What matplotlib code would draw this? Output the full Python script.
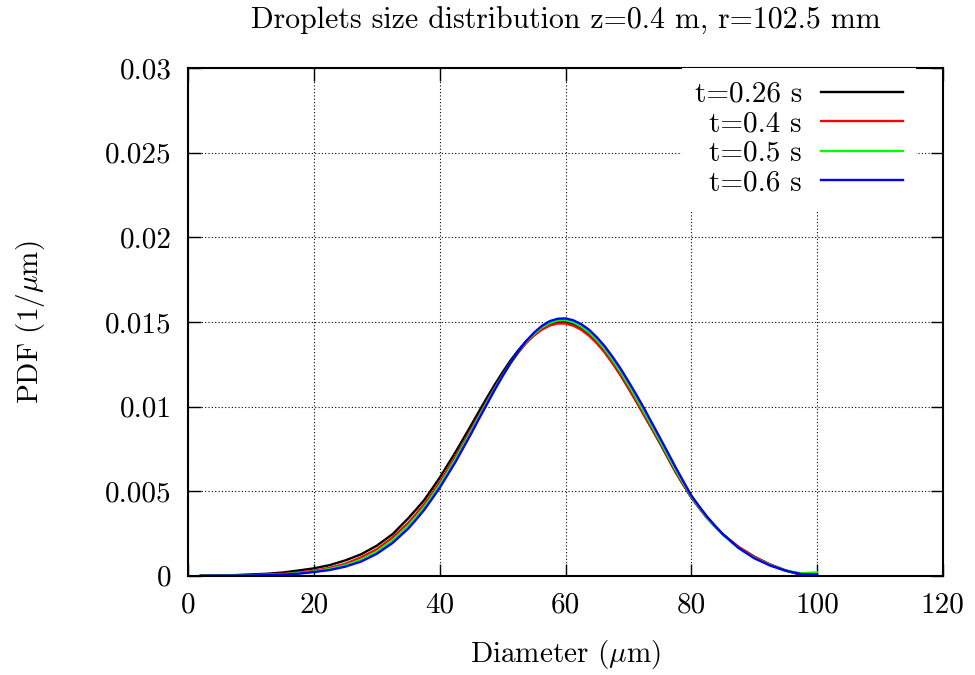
import matplotlib
matplotlib.use("Agg")
import matplotlib.pyplot as plt

plt.rcParams['font.family'] = 'serif'
plt.rcParams['font.serif'] = ['cmr10']
plt.rcParams['mathtext.fontset'] = 'cm'
plt.rcParams['axes.formatter.use_mathtext'] = True

nan = float('nan')

# diameter (um)
diam = [2, 5, 7.5, 10, 12.5, 15, 17.5, 20, 22.5, 25, 27.5, 30, 32.5, 35,
        36.25, 37.5, 38.75, 40, 41.25, 42.5, 43.75, 45, 46.25, 47.5, 48.75, 50,
        51.25, 52.5, 53.75, 55, 56.25, 57.5, 58.75, 60, 61.25, 62.5, 63.75, 65,
        66.25, 67.5, 68.75, 70, 71.25, 72.5, 73.75, 75, 76.25, 77.5, 78.75, 80,
        81.25, 82.5, 83.75, 85,
        87.5, 90, 92.5, 95, 97.5, 100]

# PDF (1/um) for each time
pdf_026 = [0.00001, 0.00002, 0.00004, 0.00008, 0.00012, 0.00019, 0.00031, 0.00044,
           0.00063, 0.00091, 0.00127, 0.00178, 0.00246, 0.0034,
           0.00392, 0.00446, 0.00512, 0.0058, 0.00655, 0.0073, 0.0081, 0.0089,
           0.00972, 0.01052, 0.0113, 0.01203, 0.01272, 0.01333, 0.01387, 0.01431,
           0.01465, 0.01488, 0.01499, 0.01499, 0.01485, 0.0146, 0.01424, 0.01377,
           0.01322, 0.01257, 0.01187, 0.0111, 0.01032, 0.0095, 0.00868, 0.00785,
           0.00699, 0.00613, 0.00537, 0.00463, 0.00401, 0.00342, 0.00292, 0.00245,
           0.0017, 0.00113, 0.00067, 0.00032, 0.00005, nan]
pdf_04 = [0.00001, 0.00002, 0.00003, 0.00005, 0.00008, 0.00011, 0.00019, 0.00029,
          0.00047, 0.00071, 0.00109, 0.00157, 0.00226, 0.00313,
          0.00366, 0.00421, 0.00486, 0.00553, 0.00628, 0.00703, 0.00784, 0.00865,
          0.00949, 0.0103, 0.0111, 0.01185, 0.01256, 0.01319, 0.01375, 0.0142,
          0.01455, 0.01479, 0.01491, 0.01491, 0.01478, 0.01454, 0.01419, 0.01374,
          0.0132, 0.01256, 0.01187, 0.0111, 0.01032, 0.0095, 0.00869, 0.00788,
          0.00702, 0.00616, 0.0054, 0.00465, 0.00403, 0.00344, 0.00294, 0.00247,
          0.00171, 0.00113, 0.00066, 0.0003, 0.00008, 0.00002]
pdf_05 = [0.00001, 0.00001, 0.00002, 0.00003, 0.00005, 0.00009, 0.00015, 0.00025,
          0.0004, 0.00062, 0.00095, 0.00143, 0.00209, 0.00296,
          0.00349, 0.00405, 0.0047, 0.00537, 0.00612, 0.00688, 0.00771, 0.00853,
          0.00939, 0.01022, 0.01105, 0.01183, 0.01257, 0.01323, 0.01382, 0.0143,
          0.01468, 0.01494, 0.01509, 0.01511, 0.01498, 0.01473, 0.01439, 0.01394,
          0.0134, 0.01275, 0.01206, 0.0113, 0.01051, 0.00968, 0.00884, 0.008,
          0.00713, 0.00627, 0.00547, 0.0047, 0.00406, 0.00345, 0.00293, 0.00243,
          0.00164, 0.00106, 0.00063, 0.0003, 0.00015, 0.0002]
pdf_06 = [0.0, 0.00001, 0.00001, 0.00002, 0.00004, 0.00007, 0.00012, 0.00022,
          0.00034, 0.00054, 0.00084, 0.0013, 0.00194, 0.00279,
          0.00332, 0.00388, 0.00453, 0.0052, 0.00596, 0.00672, 0.00756, 0.0084,
          0.00928, 0.01013, 0.01099, 0.0118, 0.01257, 0.01325, 0.01387, 0.01437,
          0.01477, 0.01505, 0.01519, 0.01521, 0.0151, 0.01487, 0.01454, 0.01409,
          0.01356, 0.01293, 0.01225, 0.01149, 0.01071, 0.00989, 0.00903, 0.00817,
          0.0073, 0.00642, 0.00558, 0.00475, 0.00411, 0.0035, 0.00297, 0.00247,
          0.00165, 0.00104, 0.00061, 0.0003, 0.0001, 0.00008]

labels = ['t=0.26 s', 't=0.4 s', 't=0.5 s', 't=0.6 s']
colors = ['#000000', '#ff0000', '#00ff00', '#0000ff']
xticks = [0, 20, 40, 60, 80, 100, 120]
yticks = [0, 0.005, 0.01, 0.015, 0.02, 0.025, 0.03]
ytick_labels = ['0', '0.005', '0.01', '0.015', '0.02', '0.025', '0.03']

fs = 21

fig = plt.figure(figsize=(9.75, 6.75), dpi=100)
ax = fig.add_axes([0.193, 0.147, 0.774, 0.752])

for y, lab, c in zip([pdf_026, pdf_04, pdf_05, pdf_06], labels, colors):
    ax.plot(diam, y, color=c, lw=1.7, label=lab)

ax.set_xlim(0, 120)
ax.set_ylim(0, 0.03)
ax.set_xticks(xticks)
ax.set_xticklabels([str(v) for v in xticks])
ax.set_yticks(yticks)
ax.set_yticklabels(ytick_labels)
ax.tick_params(direction='in', length=9, width=1, top=True, right=True,
               labelsize=fs, pad=12)
for s in ax.spines.values():
    s.set_linewidth(1.5)
ax.grid(True, color='black', linestyle=(0, (1, 2)), linewidth=0.8)
ax.set_axisbelow(True)

ax.set_xlabel(r'Diameter ($\mu$m)', fontsize=fs, labelpad=14)
ax.set_ylabel(r'PDF (1/$\mu$m)', fontsize=fs, labelpad=42)
ax.set_title('Droplets size distribution z=0.4 m, r=102.5 mm', fontsize=21.5, pad=28)

leg = ax.legend(loc='upper right', bbox_to_anchor=(0.964, 1.0), markerfirst=False,
                fontsize=fs, handlelength=2.8, handletextpad=0.65,
                labelspacing=0.11, borderpad=0.45, borderaxespad=0.0,
                frameon=True, fancybox=False, framealpha=1.0,
                edgecolor='white', facecolor='white')
leg.get_frame().set_linewidth(0)
leg.set_zorder(5)

fig.savefig('out.png', dpi=100)
